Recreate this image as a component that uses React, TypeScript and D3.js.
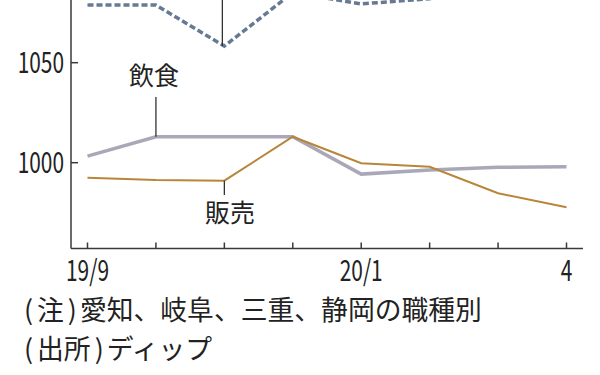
import React from "react";
import * as d3 from "d3";

const months = ["19/9", "19/10", "19/11", "19/12", "20/1", "20/2", "20/3", "20/4"];
const tickLabels = ["19/9", "", "", "", "20/1", "", "", "4"];
const yTicks = [1000, 1050];
const food = [1003.3, 1013, 1013, 1013, 994.3, 996.3, 997.7, 998];
const sales = [992.5, 991.3, 991, 1013, 999.7, 998, 984.7, 977.7];
const other = [1078.8, 1078.8, 1058.3, 1085, 1079.4, 1082, 1090, 1095];
const notes = [
  ["注", "愛知、岐阜、三重、静岡の職種別"],
  ["出所", "ディップ"],
];

const W = 600;
const H = 375;
const FONT = "'Noto Sans CJK JP', 'Noto Sans', sans-serif";

export default function App() {
  const x = d3.scalePoint<string>().domain(months).range([87.5, 566.5]);
  const y = d3.scaleLinear().domain([1000, 1050]).range([162.7, 62.7]);
  const axisX = 71;
  const axisY = 248.5;

  const line = d3
    .line<number>()
    .x((_, i) => x(months[i]) as number)
    .y((d) => y(d));

  const axisColor = "#3a3a3a";

  return (
    <div style={{ position: "absolute", left: 0, top: 0 }}>
      <svg width={W} height={H} style={{ display: "block", background: "#fff" }}>
        {/* axes */}
        <line x1={axisX} y1={0} x2={axisX} y2={axisY} stroke={axisColor} strokeWidth={1.5} />
        <line x1={axisX} y1={axisY} x2={583} y2={axisY} stroke={axisColor} strokeWidth={1.5} />
        {yTicks.map((t) => (
          <g key={t}>
            <line x1={axisX} x2={axisX + 7} y1={y(t)} y2={y(t)} stroke={axisColor} strokeWidth={1.5} />
            <text
              transform={`translate(64,${y(t) + 10}) scale(0.72,1)`}
              textAnchor="end"
              fontFamily={FONT}
              fontSize={29}
              fill="#222"
            >
              {t}
            </text>
          </g>
        ))}
        {months.map((m, i) => (
          <g key={m}>
            <line
              x1={x(m)}
              x2={x(m)}
              y1={axisY}
              y2={axisY - 6}
              stroke={axisColor}
              strokeWidth={1.5}
            />
            {tickLabels[i] && (
              <text
                transform={`translate(${x(m)},${281}) scale(0.72,1)`}
                textAnchor="middle"
                fontFamily={FONT}
                fontSize={29}
                fill="#222"
              >
                {tickLabels[i]}
              </text>
            )}
          </g>
        ))}

        {/* series */}
        <path d={line(other) || ""} fill="none" stroke="#667a94" strokeWidth={3.5} strokeDasharray="6 3" />
        <path d={line(food) || ""} fill="none" stroke="#aaa8b8" strokeWidth={3.5} />
        <path d={line(sales) || ""} fill="none" stroke="#b8853a" strokeWidth={2} />

        {/* annotations */}
        <line x1={x(months[2])! - 2} x2={x(months[2])! - 2} y1={0} y2={y(other[2])} stroke="#333" strokeWidth={1.3} />
        <line x1={x(months[1])!} x2={x(months[1])!} y1={97} y2={y(food[1])} stroke="#333" strokeWidth={1.3} />
        <text x={154} y={85} textAnchor="middle" fontFamily={FONT} fontSize={25} fill="#222">
          飲食
        </text>
        <line x1={x(months[2])!} x2={x(months[2])!} y1={y(sales[2])} y2={195} stroke="#333" strokeWidth={1.3} />
        <text x={230} y={222} textAnchor="middle" fontFamily={FONT} fontSize={25} fill="#222">
          販売
        </text>

        {/* notes */}
        {notes.map((n, i) => (
          <text key={i} x={24} y={320 + i * 39} fontFamily={FONT} fontSize={26.8} fill="#222">
            <tspan>(</tspan>
            <tspan dx={4}>{n[0]}</tspan>
            <tspan dx={4}>)</tspan>
            <tspan dx={3}>{n[1]}</tspan>
          </text>
        ))}
      </svg>
    </div>
  );
}
